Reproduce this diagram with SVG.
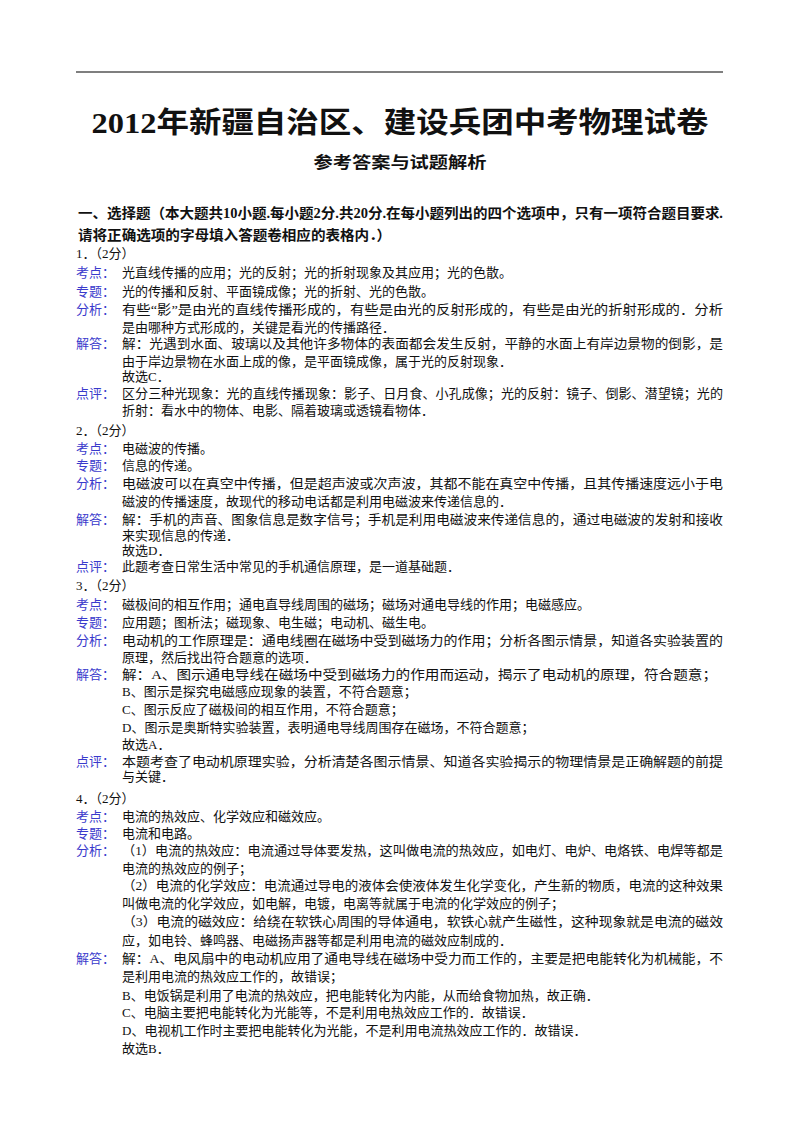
<svg xmlns="http://www.w3.org/2000/svg" width="800" height="1132" viewBox="0 0 800 1132">
<style>
text{font-family:"Liberation Serif","Noto Sans CJK SC",serif;font-size:13px;fill:#111}
.l{fill:#3a3acc}
.b{font-weight:bold}
</style>
<rect width="800" height="1132" fill="#fff"/>
<line x1="76" y1="72" x2="723" y2="72" stroke="#000" stroke-width="1.2"/>
<text x="400" y="133" text-anchor="middle" class="b" style="font-size:29px" textLength="617" lengthAdjust="spacingAndGlyphs">2012年新疆自治区、建设兵团中考物理试卷</text>
<text x="400" y="168" text-anchor="middle" class="b" style="font-size:16px" textLength="173" lengthAdjust="spacingAndGlyphs">参考答案与试题解析</text>
<text x="78" y="218" class="b" style="font-size:14px" textLength="645" lengthAdjust="spacingAndGlyphs">一、选择题（本大题共10小题.每小题2分.共20分.在每小题列出的四个选项中，只有一项符合题目要求.</text>
<text x="78" y="240" class="b" style="font-size:14px" textLength="313" lengthAdjust="spacingAndGlyphs">请将正确选项的字母填入答题卷相应的表格内．）</text>

<text x="76" y="258">1．（2分）</text>
<text x="76" y="277" class="l">考点：</text><text x="122" y="277">光直线传播的应用；光的反射；光的折射现象及其应用；光的色散。</text>
<text x="76" y="296" class="l">专题：</text><text x="122" y="296">光的传播和反射、平面镜成像；光的折射、光的色散。</text>
<text x="76" y="314" class="l">分析：</text><text x="122" y="314" textLength="601" lengthAdjust="spacingAndGlyphs">有些“影”是由光的直线传播形成的，有些是由光的反射形成的，有些是由光的折射形成的．分析</text>
<text x="122" y="332">是由哪种方式形成的，关键是看光的传播路径．</text>
<text x="76" y="348" class="l">解答：</text><text x="122" y="348" textLength="601" lengthAdjust="spacingAndGlyphs">解：光遇到水面、玻璃以及其他许多物体的表面都会发生反射，平静的水面上有岸边景物的倒影，是</text>
<text x="122" y="366">由于岸边景物在水面上成的像，是平面镜成像，属于光的反射现象．</text>
<text x="122" y="381">故选C．</text>
<text x="76" y="398" class="l">点评：</text><text x="122" y="398" textLength="601" lengthAdjust="spacingAndGlyphs">区分三种光现象：光的直线传播现象：影子、日月食、小孔成像；光的反射：镜子、倒影、潜望镜；光的</text>
<text x="122" y="415">折射：看水中的物体、电影、隔着玻璃或透镜看物体．</text>

<text x="76" y="435">2．（2分）</text>
<text x="76" y="453" class="l">考点：</text><text x="122" y="453">电磁波的传播。</text>
<text x="76" y="470" class="l">专题：</text><text x="122" y="470">信息的传递。</text>
<text x="76" y="488" class="l">分析：</text><text x="122" y="488" textLength="601" lengthAdjust="spacingAndGlyphs">电磁波可以在真空中传播，但是超声波或次声波，其都不能在真空中传播，且其传播速度远小于电</text>
<text x="122" y="506">磁波的传播速度，故现代的移动电话都是利用电磁波来传递信息的．</text>
<text x="76" y="524" class="l">解答：</text><text x="122" y="524" textLength="601" lengthAdjust="spacingAndGlyphs">解：手机的声音、图象信息是数字信号；手机是利用电磁波来传递信息的，通过电磁波的发射和接收</text>
<text x="122" y="540">来实现信息的传递．</text>
<text x="122" y="555">故选D．</text>
<text x="76" y="571" class="l">点评：</text><text x="122" y="571">此题考查日常生活中常见的手机通信原理，是一道基础题．</text>

<text x="76" y="590">3．（2分）</text>
<text x="76" y="609" class="l">考点：</text><text x="122" y="609">磁极间的相互作用；通电直导线周围的磁场；磁场对通电导线的作用；电磁感应。</text>
<text x="76" y="627" class="l">专题：</text><text x="122" y="627">应用题；图析法；磁现象、电生磁；电动机、磁生电。</text>
<text x="76" y="645" class="l">分析：</text><text x="122" y="645" textLength="601" lengthAdjust="spacingAndGlyphs">电动机的工作原理是：通电线圈在磁场中受到磁场力的作用；分析各图示情景，知道各实验装置的</text>
<text x="122" y="662">原理，然后找出符合题意的选项．</text>
<text x="76" y="679" class="l">解答：</text><text x="122" y="679" textLength="595" lengthAdjust="spacingAndGlyphs">解：A、图示通电导线在磁场中受到磁场力的作用而运动，揭示了电动机的原理，符合题意；</text>
<text x="122" y="696">B、图示是探究电磁感应现象的装置，不符合题意；</text>
<text x="122" y="714">C、图示反应了磁极间的相互作用，不符合题意；</text>
<text x="122" y="732">D、图示是奥斯特实验装置，表明通电导线周围存在磁场，不符合题意；</text>
<text x="122" y="749">故选A．</text>
<text x="76" y="766" class="l">点评：</text><text x="122" y="766" textLength="601" lengthAdjust="spacingAndGlyphs">本题考查了电动机原理实验，分析清楚各图示情景、知道各实验揭示的物理情景是正确解题的前提</text>
<text x="122" y="781">与关键．</text>

<text x="76" y="803">4．（2分）</text>
<text x="76" y="821" class="l">考点：</text><text x="122" y="821">电流的热效应、化学效应和磁效应。</text>
<text x="76" y="838" class="l">专题：</text><text x="122" y="838">电流和电路。</text>
<text x="76" y="855" class="l">分析：</text><text x="122" y="855" textLength="601" lengthAdjust="spacingAndGlyphs">（1）电流的热效应：电流通过导体要发热，这叫做电流的热效应，如电灯、电炉、电烙铁、电焊等都是</text>
<text x="122" y="873">电流的热效应的例子；</text>
<text x="122" y="890" textLength="601" lengthAdjust="spacingAndGlyphs">（2）电流的化学效应：电流通过导电的液体会使液体发生化学变化，产生新的物质，电流的这种效果</text>
<text x="122" y="908">叫做电流的化学效应，如电解，电镀，电离等就属于电流的化学效应的例子；</text>
<text x="122" y="926" textLength="601" lengthAdjust="spacingAndGlyphs">（3）电流的磁效应：给绕在软铁心周围的导体通电，软铁心就产生磁性，这种现象就是电流的磁效</text>
<text x="122" y="945">应，如电铃、蜂鸣器、电磁扬声器等都是利用电流的磁效应制成的．</text>
<text x="76" y="963" class="l">解答：</text><text x="122" y="963" textLength="601" lengthAdjust="spacingAndGlyphs">解：A、电风扇中的电动机应用了通电导线在磁场中受力而工作的，主要是把电能转化为机械能，不</text>
<text x="122" y="981">是利用电流的热效应工作的，故错误；</text>
<text x="122" y="1000">B、电饭锅是利用了电流的热效应，把电能转化为内能，从而给食物加热，故正确．</text>
<text x="122" y="1017">C、电脑主要把电能转化为光能等，不是利用电热效应工作的．故错误．</text>
<text x="122" y="1035">D、电视机工作时主要把电能转化为光能，不是利用电流热效应工作的．故错误．</text>
<text x="122" y="1053">故选B．</text>
</svg>
